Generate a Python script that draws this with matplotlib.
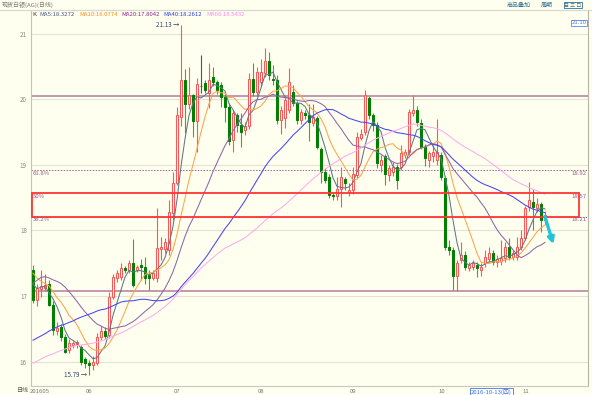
import matplotlib
matplotlib.use("Agg")
import matplotlib.pyplot as plt
import numpy as np
import pandas as pd
from matplotlib.lines import Line2D
from matplotlib.patches import Rectangle

plt.rcParams['font.family'] = ['Noto Sans CJK SC', 'DejaVu Sans']

W, H = 592, 395
BG = '#fffff0'

# closes before the first visible bar, only used to warm up the moving averages
prev_close = [15.30, 15.13, 15.18, 15.35, 15.28, 14.78, 14.96,
              14.90, 14.88, 15.12, 15.55, 15.58, 15.47, 15.34, 15.42, 15.50, 15.27,
              15.22, 15.30, 15.88, 15.82, 15.83, 15.87, 15.26, 15.20, 15.22, 15.37,
              15.49, 15.18, 15.41,
              15.03, 14.95, 15.06, 15.09, 15.10, 15.30, 15.67, 16.02, 16.07, 16.18,
              16.20, 16.27, 16.95, 17.25, 17.08, 16.98, 17.03, 17.23, 17.65, 17.77,
              17.85,
              17.65, 17.51, 17.23, 17.34, 17.46, 17.04, 17.08, 17.38]

opens = [17.40, 16.94, 17.10, 17.12, 17.19, 16.86, 16.47, 16.53, 16.37, 16.18,
         16.25, 16.27, 16.22, 16.04, 15.98, 15.95, 15.98, 16.37, 16.47, 16.40,
         16.99, 17.27, 17.29, 17.43, 17.40, 17.50, 17.40, 17.47, 17.44, 17.32,
         17.27, 17.27, 17.71, 17.71, 17.70, 18.26, 18.72, 19.74, 20.30, 19.93,
         20.07, 19.67, 20.20, 20.25, 20.10, 20.35, 20.26, 20.22, 20.04, 19.88,
         19.38, 19.76, 19.61, 19.53, 19.60, 20.32, 20.12, 20.27, 20.40, 20.58,
         20.32, 20.30, 19.69, 19.71, 19.84, 20.12, 19.94, 19.69, 19.79, 19.76,
         19.64, 19.71, 19.25, 18.90, 18.82, 18.54, 18.52, 18.64, 18.78, 18.59,
         18.62, 18.85, 19.41, 19.51, 20.02, 19.76, 19.61, 19.00, 19.13, 18.85,
         18.90, 18.97, 18.97, 19.15, 19.20, 19.79, 19.84, 19.64, 19.28, 19.07,
         19.13, 19.07, 19.15, 18.80, 17.75, 17.70, 17.30, 17.55, 17.63, 17.42,
         17.45, 17.47, 17.40, 17.50, 17.57, 17.65, 17.52, 17.53, 17.58, 17.75,
         17.60, 17.60, 17.75, 17.88, 18.36, 18.44, 18.34, 18.40, 18.16]
highs = [17.47, 17.19, 17.39, 17.33, 17.24, 16.92, 16.60, 16.57, 16.42, 16.35,
         16.32, 16.33, 16.25, 16.07, 16.02, 16.08, 16.44, 16.54, 16.53, 17.06,
         17.33, 17.40, 17.50, 17.46, 17.55, 17.87, 17.48, 17.57, 17.60, 17.40,
         17.40, 18.34, 17.90, 17.88, 18.46, 18.90, 19.89, 21.13, 20.46, 20.50,
         20.08, 20.33, 20.68, 20.30, 20.55, 20.50, 20.30, 20.27, 20.08, 19.95,
         19.84, 19.80, 19.79, 19.66, 20.40, 20.55, 20.50, 20.62, 20.78, 20.73,
         20.52, 20.37, 19.90, 20.05, 20.48, 20.22, 19.98, 19.85, 19.84, 19.93,
         19.93, 19.75, 19.28, 18.95, 18.86, 18.57, 18.82, 18.97, 18.82, 18.72,
         18.97, 19.50, 19.55, 20.15, 20.06, 19.80, 19.65, 19.15, 19.17, 19.00,
         19.05, 19.01, 19.30, 19.25, 19.86, 20.07, 19.90, 19.70, 19.32, 19.22,
         19.30, 19.70, 19.20, 18.83, 17.85, 17.75, 17.55, 17.82, 17.68, 17.52,
         17.55, 17.52, 17.50, 17.70, 17.75, 17.70, 17.62, 17.85, 17.83, 17.88,
         17.70, 17.90, 18.00, 18.37, 18.74, 18.64, 18.50, 18.44, 18.30]
lows = [16.89, 16.84, 16.99, 17.07, 16.84, 16.40, 16.40, 16.32, 16.13, 16.13,
        16.20, 16.21, 15.95, 15.90, 15.79, 15.87, 15.95, 16.33, 16.35, 16.36,
        16.95, 17.22, 17.25, 17.35, 17.35, 17.14, 17.36, 17.24, 17.19, 17.09,
        17.24, 17.22, 17.55, 17.65, 17.62, 18.16, 18.70, 19.60, 19.49, 19.85,
        19.43, 19.20, 20.10, 20.10, 19.87, 20.20, 20.08, 19.89, 19.66, 19.30,
        19.20, 19.50, 19.28, 19.46, 19.55, 20.05, 20.05, 20.20, 20.35, 20.30,
        20.22, 19.62, 19.48, 19.56, 19.80, 19.90, 19.62, 19.62, 19.70, 19.36,
        19.60, 19.25, 18.72, 18.72, 18.50, 18.47, 18.47, 18.36, 18.62, 18.52,
        18.55, 18.80, 19.38, 19.46, 19.70, 19.52, 18.95, 18.90, 18.70, 18.75,
        18.83, 18.64, 18.93, 19.10, 19.15, 19.75, 19.60, 19.25, 18.98, 18.97,
        19.05, 19.00, 18.77, 17.70, 17.62, 17.09, 17.08, 17.50, 17.40, 17.38,
        17.40, 17.29, 17.30, 17.45, 17.52, 17.48, 17.45, 17.48, 17.52, 17.55,
        17.55, 17.55, 17.70, 17.85, 18.30, 18.01, 18.28, 17.98, 18.10]
closes = [16.94, 17.12, 17.15, 17.17, 16.87, 16.48, 16.51, 16.37, 16.15, 16.29,
          16.29, 16.30, 16.00, 15.97, 15.95, 15.99, 16.38, 16.47, 16.39, 16.99,
          17.29, 17.35, 17.42, 17.39, 17.50, 17.17, 17.44, 17.44, 17.27, 17.27,
          17.35, 17.73, 17.75, 17.83, 18.28, 18.72, 19.76, 20.30, 19.93, 20.07,
          19.67, 20.24, 20.20, 20.15, 20.30, 20.27, 20.15, 20.04, 19.88, 19.36,
          19.79, 19.61, 19.51, 19.60, 20.32, 20.12, 20.42, 20.42, 20.58, 20.37,
          20.30, 19.69, 19.84, 19.99, 20.27, 19.94, 19.69, 19.81, 19.76, 19.66,
          19.74, 19.28, 18.90, 18.77, 18.54, 18.52, 18.64, 18.82, 18.72, 18.62,
          18.87, 19.43, 19.48, 20.07, 19.76, 19.61, 19.03, 19.08, 18.87, 18.95,
          18.97, 18.77, 19.18, 19.20, 19.81, 19.84, 19.66, 19.28, 19.10, 19.18,
          19.20, 19.20, 18.82, 17.75, 17.70, 17.30, 17.50, 17.63, 17.45, 17.47,
          17.50, 17.42, 17.45, 17.59, 17.65, 17.52, 17.57, 17.58, 17.75, 17.60,
          17.65, 17.75, 17.88, 18.34, 18.47, 18.36, 18.41, 18.16, 18.24]

ma_periods = [5, 10, 20, 40, 60]
ma_colors = ['#5d7888', '#ffa348', '#8c66aa', '#4646f0', '#ffaaee']
ma_text_colors = ['#4a5a88', '#ff8c1a', '#8a2a8a', '#2a40e0', '#ff88ee']
ma_readout = ['18.3272', '18.0774', '17.8042', '18.2612', '18.5432']

level_lines = [20.06, 17.07]
fib_levels = [18.92, 18.57, 18.21]
fib_names = ['61.8%', '50%', '38.2%']
y_ticks = [16, 17, 18, 19, 20, 21]
cursor_date = '2016-10-13'
cursor_price = '21.10'

o, h, l, c = (np.array(v) for v in (opens, highs, lows, closes))
n = len(c)
x = np.arange(n)
dates = pd.bdate_range('2016-05-12', periods=n)
full = pd.Series(prev_close + closes)
ma = {p: full.rolling(p).mean().to_numpy()[len(prev_close):] for p in ma_periods}

def fx(px):
    return px / W

def fy(py):
    return 1 - py / H

fig = plt.figure(figsize=(W / 100, H / 100), dpi=100, facecolor=BG)
ax = fig.add_axes([fx(31), fy(386), (588 - 31) / W, (386 - 10) / H], facecolor=BG)
ax.set_xlim(-0.5, 138.75)
ax.set_ylim(15.626, 21.366)

for v in y_ticks:
    ax.axhline(v, color='#e3e3d3', lw=0.8, zorder=0)
ax.set_yticks(y_ticks)
ax.set_yticklabels([str(v) for v in y_ticks], fontsize=4.5, color='#8a8a8a')
ax.tick_params(axis='y', length=0, pad=3)
ax.set_xticks([])
for side, col in [('left', '#c4c4b4'), ('bottom', '#c8c8bc'), ('top', '#d6d6cc'), ('right', '#b4b4aa')]:
    ax.spines[side].set_color(col)
    ax.spines[side].set_linewidth(0.8)

# candles
UP, DOWN, DOWN_WICK, FLAT = '#ff5656', '#008000', '#4a9e4a', '#555555'
rising = c > o
falling = c < o
wick_col = np.where(rising, UP, np.where(falling, DOWN_WICK, FLAT))
face = np.where(rising, BG, np.where(falling, DOWN, FLAT))
edge = np.where(rising, UP, np.where(falling, DOWN, FLAT))
ax.vlines(x, l, h, colors=wick_col, lw=0.8, zorder=2)
ax.bar(x, np.maximum(np.abs(c - o), 0.012), bottom=np.minimum(o, c), width=0.72,
       color=face, edgecolor=edge, linewidth=0.75, zorder=3)

for p, col in zip(ma_periods, ma_colors):
    ax.plot(x, ma[p], color=col, lw=0.75, zorder=4)

for v in level_lines:
    ax.axhline(v, color='#b47a9c', lw=1.1, zorder=1)
for v in (fib_levels[0], fib_levels[2]):
    ax.axhline(v, color='#a0609a', lw=0.7, ls=(0, (1.5, 1.5)), zorder=1)
ax.add_patch(Rectangle((-0.15, fib_levels[2]), 136.6, fib_levels[1] - fib_levels[2],
                       fill=False, edgecolor='#ff3434', lw=1.3, zorder=5))
for v, name in zip(fib_levels, fib_names):
    ax.text(-0.1, v - 0.01, name, fontsize=4.3, color='#a05a90', va='top', ha='left', zorder=6)
    ax.text(138.5, v - 0.01, f'{v:.2f}', fontsize=4.3, color='#a05a90', va='top', ha='right', zorder=6)

# extreme labels
i_hi, i_lo = int(np.argmax(h)), int(np.argmin(l))
ax.text(i_hi - 0.4, h[i_hi], f'{h[i_hi]:.2f} →', fontsize=4.5, color='#334466', ha='right', va='center')
ax.text(i_lo - 0.4, l[i_lo], f'{l[i_lo]:.2f} →', fontsize=4.5, color='#334466', ha='right', va='center')

# drawn trend arrow
ax.annotate('', xy=(130.1, 17.79), xytext=(128.0, 18.21),
            arrowprops=dict(arrowstyle='-|>', color='#22c4dc', lw=2.4, mutation_scale=9,
                            shrinkA=0, shrinkB=0), zorder=7)

# month labels along the bottom
starts = [0] + [i for i in range(1, n) if dates[i].month != dates[i - 1].month]
for i in starts:
    lab = dates[i].strftime('%Y%m') if i == 0 else dates[i].strftime('%m')
    ax.text(i - 0.75, -0.014, lab, transform=ax.get_xaxis_transform(), fontsize=4.3,
            color='#777777', ha='left', va='center')
i_cur = int(np.where(dates == pd.Timestamp(cursor_date))[0][0])
ax.text(i_cur - 0.5, -0.016, f'{cursor_date}(四)', transform=ax.get_xaxis_transform(),
        fontsize=4.3, color='#3d6fd0', ha='left', va='center',
        bbox=dict(boxstyle='square,pad=0.15', fc='white', ec='#5a8ae8', lw=0.7))
fig.text(fx(17), fy(391), '日线', fontsize=4.3, color='#555555', va='center')

# header
fig.add_artist(Line2D([0, 1], [fy(9.5)] * 2, color='#d8d8cc', lw=0.8))
fig.text(fx(2), fy(5), '现货白银(AG)(日线)', fontsize=4.3, color='#777777', va='center')
fig.text(fx(507), fy(5), '商品叠加', fontsize=4.3, color='#2f6f8f', va='center')
fig.text(fx(541), fy(5), '周期', fontsize=4.3, color='#2f6f8f', va='center')
fig.text(fx(564), fy(5), '日 三 ロ', fontsize=3.6, color='#2f6f8f', va='center',
         bbox=dict(boxstyle='square,pad=0.1', fc=BG, ec='#2f6f8f', lw=0.6))
fig.text(fx(32), fy(14.5), 'K', fontsize=4.3, color='#333333', va='center')
for px, p, col, val in zip([39.5, 79, 121, 163.5, 206], ma_periods, ma_text_colors, ma_readout):
    fig.text(fx(px), fy(14.5), f'MA{p}:{val}', fontsize=4.3, color=col, va='center')
fig.text(fx(586.5), fy(23), cursor_price, fontsize=4.3, color='#4f7fdf', ha='right', va='center',
         bbox=dict(boxstyle='square,pad=0.15', fc='white', ec='#6a9af0', lw=0.7))

fig.savefig('out.png', dpi=100, facecolor=BG)
